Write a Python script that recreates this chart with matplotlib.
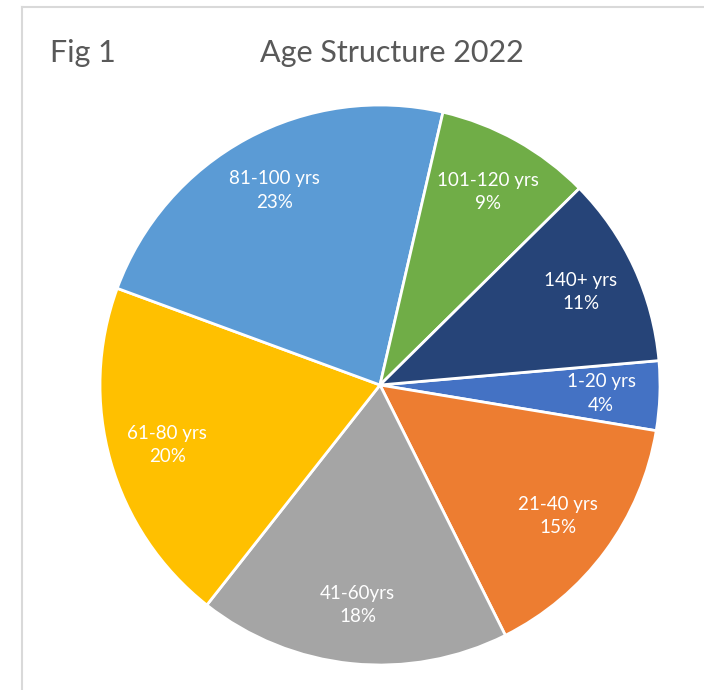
import matplotlib
matplotlib.use("Agg")
import matplotlib.pyplot as plt
from matplotlib.lines import Line2D

plt.rcParams['font.family'] = ['Lato', 'DejaVu Sans']

age_groups = ["1-20 yrs", "21-40 yrs", "41-60yrs", "61-80 yrs", "81-100 yrs", "101-120 yrs", "140+ yrs"]
shares = [4, 15, 18, 20, 23, 9, 11]
colors = ['#4472C4', '#ED7D31', '#A5A5A5', '#FFC000', '#5B9BD5', '#70AD47', '#264478']

W, H = 704, 690
fig = plt.figure(figsize=(W / 100, H / 100), dpi=100)

# pie centre ~ (380, 385) px, radius ~ 280 px
cx, cy, r = 380, 385, 280
ax = fig.add_axes([(cx - r) / W, (H - cy - r) / H, 2 * r / W, 2 * r / H])

wedges, texts = ax.pie(shares, labels=age_groups, colors=colors,
                       startangle=5, counterclock=False, labeldistance=0.79,
                       wedgeprops=dict(edgecolor='white', linewidth=2),
                       textprops=dict(color='white', fontsize=13.5))
for t, lab, s in zip(texts, age_groups, shares):
    t.set_text(f"{lab}\n{s}%")
    t.set_ha('center')
    t.set_va('center')
    t.set_linespacing(1.45)

ax.set_xlim(-1, 1)
ax.set_ylim(-1, 1)
ax.set_aspect('equal')
ax.axis('off')

fig.text(50 / W, 1 - 53 / H, "Fig 1", fontsize=22, color='#595959', va='center', ha='left')
fig.text(392 / W, 1 - 53 / H, "Age Structure 2022", fontsize=22, color='#595959', va='center', ha='center')

# chart frame edges
fig.add_artist(Line2D([22 / W, 1], [1 - 7 / H, 1 - 7 / H], color='#D9D9D9', linewidth=1.5))
fig.add_artist(Line2D([22 / W, 22 / W], [0, 1 - 7 / H], color='#D9D9D9', linewidth=1.5))

fig.savefig("out.png", dpi=100)
